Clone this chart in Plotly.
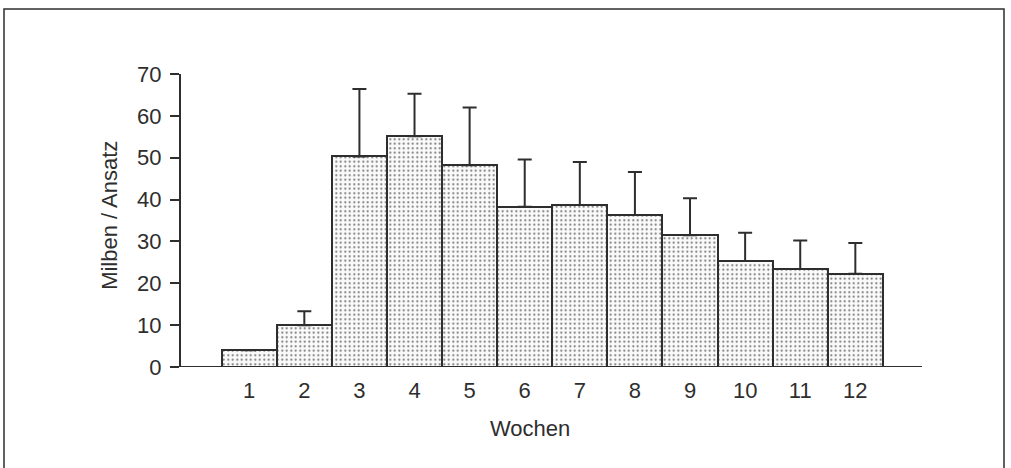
import plotly.graph_objects as go

weeks = [1, 2, 3, 4, 5, 6, 7, 8, 9, 10, 11, 12]
week_labels = [str(w) for w in weeks]
mites_mean = [4.0, 10.0, 50.3, 55.1, 48.2, 38.3, 38.7, 36.3, 31.5, 25.3, 23.4, 22.3]
mites_err = [None, 3.3, 16.1, 10.2, 13.8, 11.3, 10.3, 10.3, 8.8, 6.8, 6.8, 7.3]
y_ticks = [0, 10, 20, 30, 40, 50, 60, 70]

ink = "#2e2e2e"
font_family = "Liberation Sans, Arial, sans-serif"

fig = go.Figure()
fig.add_trace(go.Bar(
    x=weeks,
    y=mites_mean,
    width=1.0,
    marker=dict(
        color="#fafafa",
        line=dict(color=ink, width=2),
        pattern=dict(shape=".", fgcolor="#6e6e6e", bgcolor="#fafafa",
                     size=4.5, solidity=0.16, fillmode="replace"),
    ),
    error_y=dict(type="data", symmetric=False, array=mites_err,
                 arrayminus=[0] * len(weeks), color=ink, thickness=2, width=7),
    showlegend=False,
))

fig.update_layout(
    width=1011, height=468,
    paper_bgcolor="white", plot_bgcolor="white",
    margin=dict(l=181, r=89, t=74, b=101),
    font=dict(family=font_family, color=ink, size=22),
    bargap=0,
    xaxis=dict(
        range=[-0.238, 13.21],
        tickmode="array", tickvals=weeks, ticktext=week_labels,
        showgrid=False, zeroline=False, showline=False,
        ticks="", ticklen=0, ticklabelstandoff=8,
        tickfont=dict(size=22),
        fixedrange=True,
    ),
    yaxis=dict(
        range=[0, 70],
        tickmode="array", tickvals=y_ticks,
        showgrid=False, zeroline=False,
        showline=True, linecolor=ink, linewidth=2,
        ticks="outside", ticklen=9, tickwidth=2, tickcolor=ink,
        ticklabelstandoff=4,
        tickfont=dict(size=22),
        fixedrange=True,
    ),
    shapes=[
        dict(type="line", xref="paper", yref="y", x0=0, x1=1, y0=0, y1=0,
             line=dict(color=ink, width=2), layer="above"),
        dict(type="rect", xref="paper", yref="paper",
             x0=-177 / 741, x1=823 / 741, y0=-110 / 293.3, y1=(367.3 - 9) / 293.3,
             line=dict(color=ink, width=1.5)),
    ],
    annotations=[
        dict(text="Wochen", xref="paper", yref="paper",
             x=(530 - 181) / 741, y=-(429 - 367.3) / 293.3,
             xanchor="center", yanchor="middle", showarrow=False,
             font=dict(size=22, color=ink)),
        dict(text="Milben / Ansatz", xref="paper", yref="paper",
             x=(110 - 181) / 741, y=(367.3 - 216) / 293.3, textangle=-90,
             xanchor="center", yanchor="middle", showarrow=False,
             font=dict(size=22, color=ink)),
    ],
)

fig.write_html("out.html", config={"displayModeBar": False},
               post_script="document.body.style.margin='0';")
